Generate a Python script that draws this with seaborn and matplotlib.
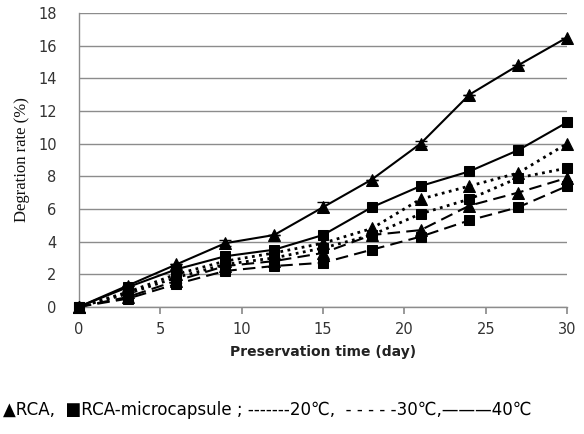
import matplotlib
matplotlib.use('Agg')
import matplotlib.pyplot as plt
import pandas as pd
import seaborn as sns

# ── Data ──
days = [0, 3, 6, 9, 12, 15, 18, 21, 24, 27, 30]

rca_40 = [0, 1.3, 2.6, 3.9, 4.4, 6.1, 7.8, 10.0, 13.0, 14.8, 16.5]
mic_40 = [0, 1.2, 2.3, 3.1, 3.5, 4.4, 6.1, 7.4, 8.3, 9.6, 11.3]
rca_20 = [0, 0.9, 2.0, 2.8, 3.3, 3.9, 4.8, 6.6, 7.4, 8.2, 10.0]
mic_20 = [0, 0.8, 1.8, 2.6, 3.0, 3.6, 4.4, 5.7, 6.6, 7.9, 8.5]
rca_30 = [0, 0.6, 1.6, 2.5, 2.8, 3.3, 4.4, 4.7, 6.2, 7.0, 7.9]
mic_30 = [0, 0.5, 1.4, 2.2, 2.5, 2.7, 3.5, 4.3, 5.3, 6.1, 7.4]

# small error bars visible on the 40 °C RCA curve
err_rca_40 = [0, 0, 0, 0.2, 0, 0.3, 0, 0.15, 0, 0, 0]

x_ticks = [0, 5, 10, 15, 20, 25, 30]
y_ticks = [0, 2, 4, 6, 8, 10, 12, 14, 16, 18]

# ── Style per series ──
DOTTED = (0, (1, 1.6))
DASHED = (0, (6, 3))
series = [
    (rca_20, '^', DOTTED, 2.0),
    (mic_20, 's', DOTTED, 2.0),
    (rca_30, '^', DASHED, 1.5),
    (mic_30, 's', DASHED, 1.5),
    (mic_40, 's', '-', 1.5),
    (rca_40, '^', '-', 1.5),
]

sns.set_theme(style='white')

fig = plt.figure(figsize=(5.84, 4.34), dpi=100)
ax = fig.add_axes([0.135, 0.293, 0.836, 0.677])

for vals, mk, ls, lw in series:
    df = pd.DataFrame({'day': days, 'rate': vals})
    sns.lineplot(data=df, x='day', y='rate', ax=ax, color='black',
                 marker=mk, markersize=8.5 if mk == '^' else 7.5,
                 markeredgecolor='black', linestyle=ls, linewidth=lw,
                 clip_on=False, zorder=3)

ax.errorbar(days, rca_40, yerr=err_rca_40, fmt='none', ecolor='black',
            elinewidth=1, capsize=4, zorder=2)

ax.set_xlim(0, 30)
ax.set_ylim(0, 18)
ax.set_xticks(x_ticks)
ax.set_yticks(y_ticks)
ax.yaxis.grid(True, color='#8c8c8c', linewidth=1)
ax.xaxis.grid(False)
ax.set_axisbelow(True)

for side in ['top', 'right']:
    ax.spines[side].set_visible(False)
for side in ['left', 'bottom']:
    ax.spines[side].set_color('#8c8c8c')
    ax.spines[side].set_linewidth(1)

ax.tick_params(axis='x', bottom=True, length=5, color='#8c8c8c',
               direction='out', labelsize=10.5, pad=6, labelcolor='#333333')
ax.tick_params(axis='y', left=False, labelsize=10.5, pad=10,
               labelcolor='#333333')

ax.set_xlabel('Preservation time (day)', fontsize=10, fontweight='bold',
              family='DejaVu Sans', labelpad=6, color='#222222')
ax.set_ylabel('Degration rate (%)', fontsize=12, family='Liberation Serif',
              labelpad=6, color='#111111')

fig.text(0.005, 0.043,
         '\u25b2RCA,  \u25a0RCA-microcapsule ; -------20\u2103,  - - - - -30\u2103,\u2014\u2014\u201440\u2103',
         fontsize=13.3, family=['DejaVu Sans'], fontstretch='condensed',
         color='black', ha='left', va='baseline')

fig.savefig('out.png', dpi=100)
